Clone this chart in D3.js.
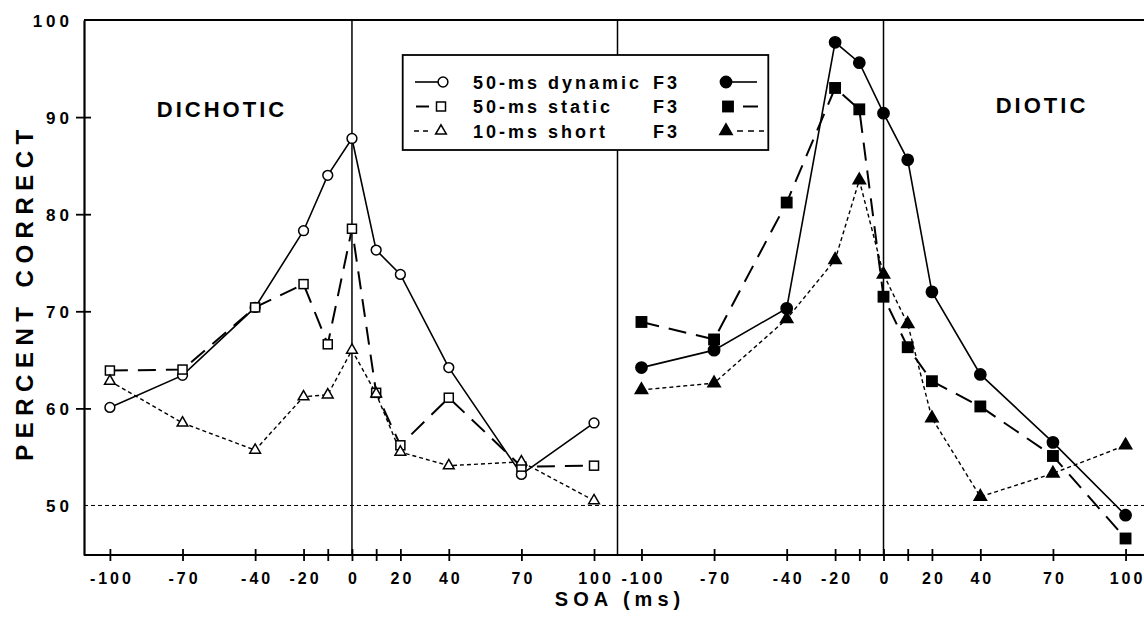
<!DOCTYPE html>
<html><head><meta charset="utf-8">
<script src="https://cdn.jsdelivr.net/npm/d3@7"></script>
<style>
body{margin:0;background:#fff}
text{font-family:"Liberation Sans",Arial,sans-serif;font-weight:bold;fill:#000}
</style></head><body>
<script>
// SOA values (ms), same for both panels
const soa = [-100,-70,-40,-20,-10,0,10,20,40,70,100]
const soaLabels = [-100,-70,-40,-20,0,20,40,70,100]
const yTicks = [50,60,70,80,90,100]

// dichotic panel (open symbols)
const dichDynamic = [60.1,63.4,70.4,78.3,84.0,87.8,76.3,73.8,64.2,53.2,58.5]
const dichStatic  = [63.9,64.0,70.4,72.8,66.6,78.5,61.6,56.2,61.1,54.0,54.1]
const dichShort   = [62.8,58.5,55.7,61.2,61.4,66.0,61.5,55.5,54.1,54.5,50.5]
// diotic panel (filled symbols)
const dioDynamic  = [64.2,66.0,70.3,97.7,95.6,90.4,85.6,72.0,63.5,56.5,49.0]
const dioStatic   = [68.9,67.1,81.2,93.0,90.8,71.5,66.3,62.8,60.2,55.1,46.6]
const dioShort    = [61.9,62.6,69.2,75.3,83.5,73.8,68.7,59.0,50.9,53.3,56.2]

const legendNames = ['50-ms dynamic','50-ms static','10-ms short']

const W = 1144, H = 626
const svg = d3.select('body').append('svg').attr('width',W).attr('height',H)

const y = d3.scaleLinear().domain([44.9,100]).range([555,20])
const xL = d3.scaleLinear().domain([-110.7,109.7]).range([84,617.5])
const xR = d3.scaleLinear().domain([-109.9,110.1]).range([617.5,1150])

const styles = {
  dynamic:{shape:'circle',dash:null,width:1.6},
  static:{shape:'square',dash:'18,10',width:2},
  short:{shape:'triangle',dash:'4,3',width:1.4}
}
const series = [
  {x:xL,vals:dichDynamic,type:'dynamic',open:true},
  {x:xL,vals:dichStatic,type:'static',open:true},
  {x:xL,vals:dichShort,type:'short',open:true},
  {x:xR,vals:dioDynamic,type:'dynamic',open:false},
  {x:xR,vals:dioStatic,type:'static',open:false},
  {x:xR,vals:dioShort,type:'short',open:false}
]

// frame
const $frame = svg.append('g').attr('stroke','#000').attr('fill','none')
$frame.append('line').attr('x1',84).attr('x2',W).attr('y1',y(100)).attr('y2',y(100)).attr('stroke-width',2)
$frame.append('line').attr('x1',xL(0)).attr('x2',xL(0)).attr('y1',y(100)).attr('y2',y.range()[0]).attr('stroke-width',1.5)
$frame.append('line').attr('x1',xR(0)).attr('x2',xR(0)).attr('y1',y(100)).attr('y2',y.range()[0]).attr('stroke-width',1.5)
$frame.append('line').attr('x1',617.5).attr('x2',617.5).attr('y1',y(100)).attr('y2',y.range()[0]).attr('stroke-width',1.5)
$frame.append('line').attr('x1',84).attr('x2',W).attr('y1',y(50)).attr('y2',y(50))
  .attr('stroke-width',1).attr('stroke-dasharray','4,3')

// y axis
const yAxis = svg.append('g').attr('transform','translate(84,0)')
  .call(d3.axisLeft(y).tickValues(yTicks).tickSize(0).tickPadding(0))
yAxis.select('.domain').attr('stroke-width',2.2)
yAxis.selectAll('.tick line').attr('x1',d => d==50||d==100 ? 0 : -8).attr('x2',d => d==50||d==100 ? 0 : 7).attr('stroke-width',1.8)
yAxis.selectAll('.tick text').attr('x',-11).attr('dy','0.36em')
  .style('font-size','17px').style('letter-spacing','4px').style('font-family','"Liberation Sans",Arial,sans-serif')

// x axes
;[xL,xR].forEach(x => {
  const ax = svg.append('g').attr('transform','translate(0,555)')
    .call(d3.axisBottom(x).tickValues(soa).tickSize(0).tickPadding(0)
      .tickFormat(d => soaLabels.includes(d) ? String(d) : ''))
  ax.select('.domain').remove()
  ax.selectAll('.tick line').attr('y1',-6).attr('y2',6).attr('stroke-width',1.8)
  ax.selectAll('.tick text').attr('y',18).attr('dx','1.5px')
    .style('font-size','16px').style('letter-spacing','3px').style('font-family','"Liberation Sans",Arial,sans-serif')
})
svg.append('line').attr('x1',84).attr('x2',W).attr('y1',555).attr('y2',555).attr('stroke','#000').attr('stroke-width',2.2)

// axis titles
svg.append('text').attr('transform','translate(33,292) rotate(-90)').attr('text-anchor','middle')
  .style('font-size','24px').style('letter-spacing','6.5px').text('PERCENT CORRECT')
svg.append('text').attr('x',620).attr('y',606).attr('text-anchor','middle')
  .style('font-size','20px').style('letter-spacing','5px').text('SOA (ms)')
svg.append('text').attr('x',222).attr('y',117).attr('text-anchor','middle')
  .style('font-size','22px').style('letter-spacing','3px').text('DICHOTIC')
svg.append('text').attr('x',1042).attr('y',113).attr('text-anchor','middle')
  .style('font-size','22px').style('letter-spacing','3px').text('DIOTIC')

function marker(g,shape,open,cx,cy){
  const fill = open ? '#fff' : '#000'
  const s = open ? 1 : 1.15
  if(shape=='circle') g.append('circle').attr('cx',cx).attr('cy',cy).attr('r',4.9*s)
  else if(shape=='square') g.append('rect').attr('x',cx-4.5*s).attr('y',cy-4.5*s).attr('width',9*s).attr('height',9*s)
  else g.append('path').attr('transform',`translate(${cx},${cy})`).attr('d',d3.symbol(d3.symbolTriangle,50*s*s)())
  g.selectAll(':last-child').attr('fill',fill).attr('stroke','#000').attr('stroke-width',1.5)
}

// lines
const line = d3.line()
series.forEach(s => {
  const st = styles[s.type]
  svg.append('path')
    .attr('d',line(s.vals.map((v,i) => [s.x(soa[i]),y(v)])))
    .attr('fill','none').attr('stroke','#000').attr('stroke-width',st.width)
    .attr('stroke-dasharray',st.dash)
})
// markers
series.forEach(s => {
  const g = svg.append('g')
  s.vals.forEach((v,i) => marker(g,styles[s.type].shape,s.open,s.x(soa[i]),y(v)))
})

// legend
const lg = svg.append('g')
lg.append('rect').attr('x',402.7).attr('y',55).attr('width',365.6).attr('height',95)
  .attr('fill','#fff').attr('stroke','#000').attr('stroke-width',1.8)
const rowsY = [82,106.5,131]
const types = ['dynamic','static','short']
types.forEach((t,i) => {
  const cy = rowsY[i], st = styles[t]
  // left sample (open)
  const lx1 = t=='dynamic' ? 415 : t=='static' ? 416 : 414
  const lx2 = t=='dynamic' ? 438 : t=='static' ? 429 : 431
  lg.append('line').attr('x1',lx1).attr('x2',lx2).attr('y1',cy).attr('y2',cy)
    .attr('stroke','#000').attr('stroke-width',st.width).attr('stroke-dasharray',t=='short'?'5,4':null)
  marker(lg,st.shape,true,t=='dynamic'?443:441,cy)
  lg.append('text').attr('x',473).attr('y',cy+6.5).style('font-size','18px').style('letter-spacing','3px').text(legendNames[i])
  lg.append('text').attr('x',653).attr('y',cy+6.5).style('font-size','18px').style('letter-spacing','3px').text('F3')
  // right sample (filled)
  const rx1 = t=='dynamic' ? 731 : t=='static' ? 743 : 737
  const rx2 = t=='dynamic' ? 757 : t=='static' ? 758 : 764
  lg.append('line').attr('x1',rx1).attr('x2',rx2).attr('y1',cy).attr('y2',cy)
    .attr('stroke','#000').attr('stroke-width',st.width).attr('stroke-dasharray',t=='short'?'6,5':null)
  marker(lg,st.shape,false,t=='static'?728:726,cy)
})
</script>
</body></html>
